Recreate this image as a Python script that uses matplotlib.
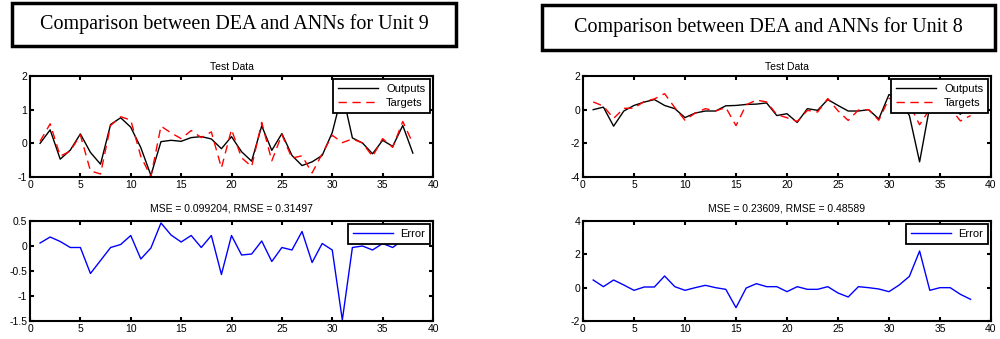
import numpy as np
import matplotlib
matplotlib.use("Agg")
import matplotlib.pyplot as plt
from matplotlib.patches import Rectangle
from matplotlib.ticker import FuncFormatter

plt.rcParams["font.family"] = ["Liberation Sans", "DejaVu Sans"]
plt.rcParams["axes.unicode_minus"] = False

# ---------------- data ----------------
x = list(range(1, 39))

# Unit 9
outputs_u9 = [0.00, 0.40, -0.47, -0.20, 0.28, -0.27, -0.62, 0.56, 0.76, 0.48,
              -0.13, -0.95, 0.05, 0.09, 0.06, 0.17, 0.20, 0.13, -0.16, 0.20,
              -0.25, -0.53, 0.52, -0.21, 0.29, -0.36, -0.66, -0.55, -0.36, 0.32,
              1.50, 0.16, 0.01, -0.31, 0.09, -0.09, 0.53, -0.29]
targets_u9 = [0.06, 0.58, -0.38, -0.23, 0.25, -0.82, -0.91, 0.53, 0.79, 0.69,
              -0.39, -0.99, 0.51, 0.31, 0.14, 0.38, 0.17, 0.34, -0.73, 0.41,
              -0.43, -0.69, 0.62, -0.52, 0.26, -0.44, -0.37, -0.88, -0.31, 0.24,
              0.02, 0.13, 0.01, -0.39, 0.14, -0.12, 0.65, 0.00]

# Unit 8
outputs_u8 = [0.00, 0.15, -0.98, -0.08, 0.25, 0.45, 0.60, 0.25, 0.06, -0.47,
              -0.20, -0.08, -0.08, 0.23, 0.25, 0.31, 0.33, 0.40, -0.35, -0.24,
              -0.76, 0.06, -0.04, 0.60, 0.25, -0.08, -0.08, 0.00, -0.55, 0.90,
              0.60, -0.35, -3.10, 0.20, 0.30, 0.10, -0.27, 0.35]
targets_u8 = [0.46, 0.21, -0.52, 0.08, 0.09, 0.49, 0.64, 0.95, 0.12, -0.63,
              -0.20, 0.06, -0.08, 0.13, -0.95, 0.29, 0.57, 0.46, -0.29, -0.48,
              -0.70, -0.04, -0.14, 0.66, -0.07, -0.64, -0.02, 0.00, -0.63, 0.66,
              0.76, 0.33, -0.90, 0.04, 0.30, 0.10, -0.67, -0.35]

titles = ["Comparison between DEA and ANNs for Unit 9",
          "Comparison between DEA and ANNs for Unit 8"]
mse_titles = ["MSE = 0.099204, RMSE = 0.31497",
              "MSE = 0.23609, RMSE = 0.48589"]
top_ylims = [(-1, 2), (-4, 2)]
top_yticks = [[-1, 0, 1, 2], [-4, -2, 0, 2]]
bot_ylims = [(-1.5, 0.5), (-2, 4)]
bot_yticks = [[-1.5, -1, -0.5, 0, 0.5], [-2, 0, 2, 4]]
xticks = [0, 5, 10, 15, 20, 25, 30, 35, 40]

W, H = 1000, 339
fig = plt.figure(figsize=(W / 100, H / 100), dpi=100)


def fig_rect(l, t, r, b):
    # pixel box -> figure fraction [left, bottom, width, height]
    return [l / W, 1 - b / H, (r - l) / W, (b - t) / H]


def style(ax, ylim, yticks):
    ax.set_xlim(0, 40)
    ax.set_ylim(*ylim)
    ax.set_xticks(xticks)
    ax.set_yticks(yticks)
    fmt = FuncFormatter(lambda v, p: "%g" % v)
    ax.xaxis.set_major_formatter(fmt)
    ax.yaxis.set_major_formatter(fmt)
    ax.tick_params(direction="in", length=3, width=1.5, labelsize=7.5,
                   top=True, right=True, pad=2, colors="black")
    for s in ax.spines.values():
        s.set_linewidth(1.5)


def add_legend(ax):
    leg = ax.legend(loc="upper right", fontsize=8, fancybox=False,
                    framealpha=1, edgecolor="black", borderaxespad=0.25,
                    handlelength=3.6, handletextpad=0.7, borderpad=0.45,
                    labelspacing=0.4)
    leg.get_frame().set_linewidth(1.3)


outs = [outputs_u9, outputs_u8]
tgts = [targets_u9, targets_u8]
ax_lr = [(30, 433), (583, 991)]
box_px = [(12, 3, 456, 46), (542, 5, 995, 50)]

for i in range(2):
    l, r = ax_lr[i]
    # title box
    bl, bt, br, bb = box_px[i]
    fig.patches.append(Rectangle((bl / W, 1 - bb / H), (br - bl) / W, (bb - bt) / H,
                                 transform=fig.transFigure, fill=False,
                                 edgecolor="black", linewidth=2.5))
    fig.text((bl + br) / 2 / W, 1 - (bt + bb) / 2 / H, titles[i],
             ha="center", va="center", fontsize=14.5, family="Liberation Serif")

    o = np.array(outs[i])
    t = np.array(tgts[i])
    err = t - o

    ax1 = fig.add_axes(fig_rect(l, 76, r, 177))
    ax1.plot(x, o, color="black", lw=1.0, label="Outputs")
    ax1.plot(x, t, color="red", lw=1.0, ls=(0, (6, 4)), label="Targets")
    style(ax1, top_ylims[i], top_yticks[i])
    ax1.set_title("Test Data", fontsize=7.5, pad=4)
    add_legend(ax1)

    ax2 = fig.add_axes(fig_rect(l, 221, r, 321))
    ax2.plot(x, err, color="blue", lw=1.0, label="Error")
    style(ax2, bot_ylims[i], bot_yticks[i])
    ax2.set_title(mse_titles[i], fontsize=7.5, pad=7)
    add_legend(ax2)

fig.savefig("out.png", dpi=100)
